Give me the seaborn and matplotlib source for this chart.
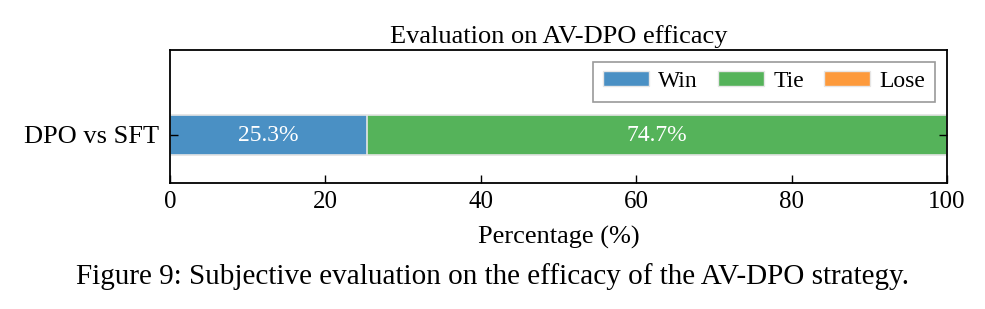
import pandas as pd
import seaborn as sns
import matplotlib.pyplot as plt
from matplotlib.patches import Patch

# data
comparisons = ['DPO vs SFT']
win = [25.3]
tie = [74.7]
lose = [0.0]
outcomes = ['Win', 'Tie', 'Lose']
colors = ['#4a90c4', '#55b35a', '#fd9a3c']

sns.set_style('ticks')
plt.rcParams['font.family'] = ['Liberation Serif', 'DejaVu Serif']
plt.rcParams['text.color'] = 'black'
plt.rcParams['axes.labelcolor'] = 'black'
plt.rcParams['xtick.color'] = 'black'
plt.rcParams['ytick.color'] = 'black'
plt.rcParams['xtick.direction'] = 'in'
plt.rcParams['ytick.direction'] = 'in'
plt.rcParams['ytick.right'] = True

df = pd.DataFrame({'comp': comparisons, 'win': win, 'tie': tie, 'lose': lose})
df['win_tie'] = df['win'] + df['tie']
df['total'] = df['win_tie'] + df['lose']

fig = plt.figure(figsize=(9.85, 3.09), dpi=100)
ax = fig.add_axes([0.1726, 0.4078, 0.7888, 0.4304])

# stacked bars drawn as overlapping cumulative bars
for col, c in zip(['total', 'win_tie', 'win'], colors[::-1]):
    sns.barplot(data=df, x=col, y='comp', color=c, orient='h', width=0.5,
                edgecolor='#e6e6e6', linewidth=1.2, saturation=1, ax=ax)

# percentage labels
for i, row in df.iterrows():
    start = 0
    for val in [row['win'], row['tie'], row['lose']]:
        if val > 0:
            ax.text(start + val / 2, i - 0.02, f'{val:.1f}%', color='white',
                    ha='center', va='center_baseline', fontsize=17)
        start += val

ax.set_xlim(0, 100)
ax.set_ylim(0.6, -1.06)
ax.set_xticks([0, 20, 40, 60, 80, 100])
ax.tick_params(axis='x', direction='in', labelsize=18, length=6, width=1,
               bottom=True, pad=6)
ax.tick_params(axis='y', direction='in', labelsize=19, length=6, width=1,
               left=True, right=True, pad=8)
ax.set_axisbelow(False)
for s in ax.spines.values():
    s.set_visible(True)
    s.set_linewidth(1.3)
    s.set_color('black')
ax.set_xlabel('Percentage (%)', fontsize=19, labelpad=9)
ax.set_ylabel('')
ax.set_title('Evaluation on AV-DPO efficacy', fontsize=19, pad=5)

handles = [Patch(facecolor=c, edgecolor='#e6e6e6', label=o) for c, o in zip(colors, outcomes)]
leg = ax.legend(handles=handles, loc='upper right', ncol=3, fontsize=17,
                frameon=True, fancybox=False, edgecolor='gray',
                handlelength=1.95, handleheight=0.6, columnspacing=0.85,
                borderaxespad=0.5, handletextpad=0.4, borderpad=0.4)
leg.get_frame().set_linewidth(1.2)

fig.text(0.5, 0.105, 'Figure 9: Subjective evaluation on the efficacy of the AV-DPO strategy.',
         ha='center', va='center', fontsize=21)

plt.savefig('out.png', dpi=100)
